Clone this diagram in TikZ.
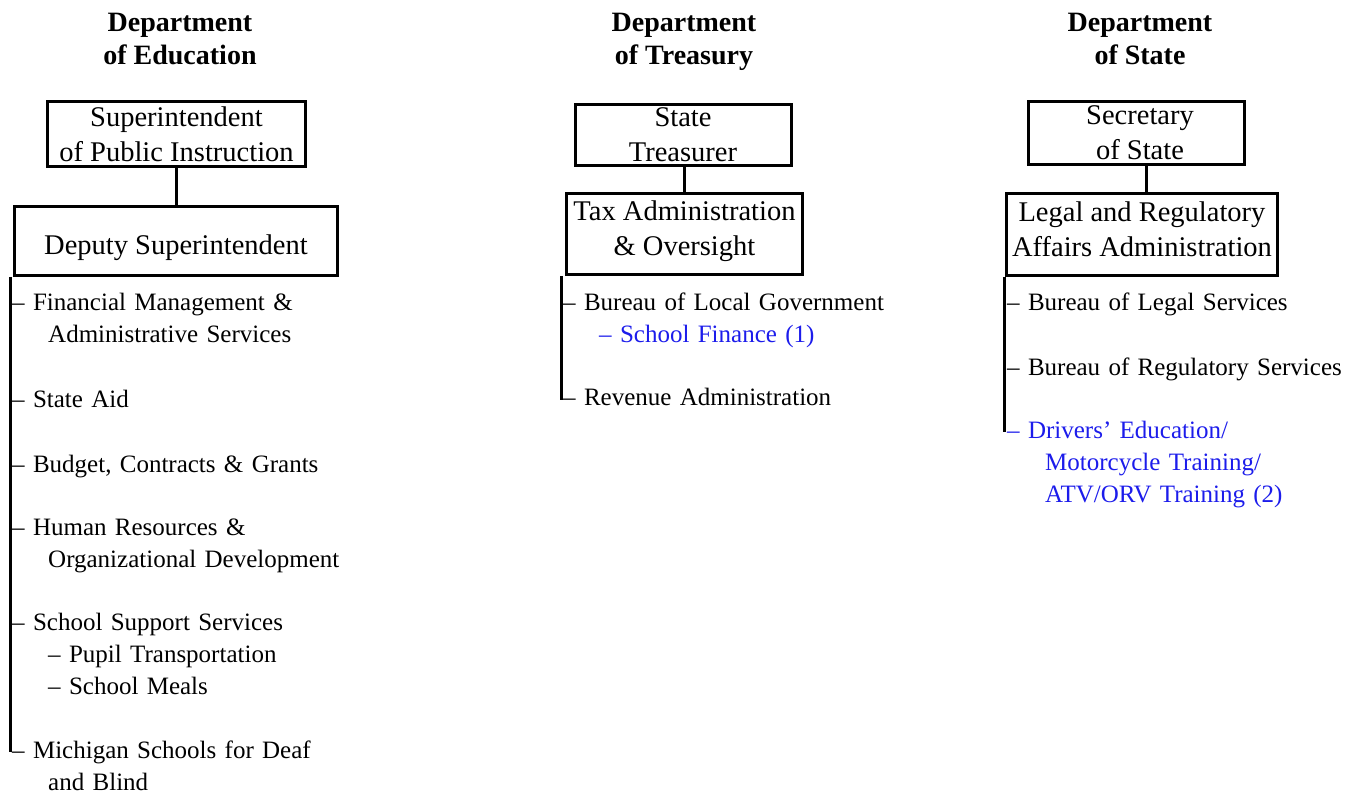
\documentclass[tikz,border=0pt]{standalone}
\usepackage{fontspec}
\setmainfont{Liberation Serif}
\definecolor{noteblue}{RGB}{28,28,235}
% list text: slightly tighter word spacing
\newcommand\listtext{\fontsize{25}{32}\selectfont\spaceskip=5.2pt plus 2pt minus 1pt\relax}
\begin{document}
\begin{tikzpicture}[x=1pt,y=-1pt,
  box/.style={draw, line width=3pt, align=center, inner sep=0pt,
    font=\fontsize{28.5}{35}\selectfont},
  head/.style={align=center, inner sep=0pt, anchor=base,
    font=\fontsize{28}{33}\selectfont\bfseries},
  item/.style={anchor=base west, inner sep=0pt, text width=420pt, align=left,
    font=\listtext},
  stem/.style={line width=3pt},
  link/.style={line width=3pt}]
\useasboundingbox (0,0) rectangle (1347,794);

% ---------- Department of Education ----------
\node[head] (eduhead) at (180,65) {Department\\of Education};
\node[box, minimum width=258pt, minimum height=65pt] (sup) at (176.5,134)
  {Superintendent\\of Public Instruction};
\node[box, minimum width=323pt, minimum height=69pt, text height=33pt, text depth=6pt]
  (dep) at (176,241) {Deputy Superintendent};
\draw[link] (sup.south) -- (sup.south |- dep.north);

\node[item] (fin) at (12,311) {– Financial Management \&\\\hspace*{36pt}Administrative Services};
\node[item] (aid) at (12,407) {– State Aid};
\node[item] (bud) at (12,472) {– Budget, Contracts \& Grants};
\node[item] (hr)  at (12,535) {– Human Resources \&\\\hspace*{36pt}Organizational Development};
\node[item] (sss) at (12,630) {– School Support Services\\\hspace*{36pt}– Pupil Transportation\\\hspace*{36pt}– School Meals};
\node[item] (msd) at (12,758) {– Michigan Schools for Deaf\\\hspace*{36pt}and Blind};
\coordinate (edutail) at (10,752);
\draw[stem] (dep.south -| edutail) -- (edutail);

% ---------- Department of Treasury ----------
\node[head] (trhead) at (684,65) {Department\\of Treasury};
\node[box, minimum width=216pt, minimum height=61pt] (tre) at (683,135)
  {State\\Treasurer};
\node[box, minimum width=236pt, minimum height=81pt, text depth=11pt] (tax) at (684.5,234)
  {Tax Administration\\\& Oversight};
\draw[link] (tre.south -| tax.north) -- (tax.north);

\node[item] (blg) at (563,311) {– Bureau of Local Government\\\hspace*{36pt}\textcolor{noteblue}{– School Finance (1)}};
\node[item] (rev) at (563,405) {– Revenue Administration};
\coordinate (trtail) at (561,400);
\draw[stem] (tax.south -| trtail) -- (trtail);

% ---------- Department of State ----------
\node[head] (sthead) at (1140,65) {Department\\of State};
\node[box, minimum width=216pt, minimum height=63pt] (sec) at (1136.5,133)
  {\hspace*{7pt}Secretary\\\hspace*{7pt}of State};
\node[box, minimum width=271pt, minimum height=82pt, text depth=10pt] (legal) at (1142,234.5)
  {Legal and Regulatory\\Affairs Administration};
\coordinate (stjoin) at (1146,180);
\draw[link] (sec.south -| stjoin) -- (legal.north -| stjoin);

\node[item] (bls) at (1007,311) {– Bureau of Legal Services};
\node[item] (brs) at (1007,375) {– Bureau of Regulatory Services};
\node[item, text=noteblue] (drv) at (1007,438) {– Drivers’ Education/\\\hspace*{38pt}Motorcycle Training/\\\hspace*{38pt}ATV/ORV Training (2)};
\coordinate (sttail) at (1004,432);
\draw[stem] (legal.south -| sttail) -- (sttail);
\end{tikzpicture}
\end{document}
